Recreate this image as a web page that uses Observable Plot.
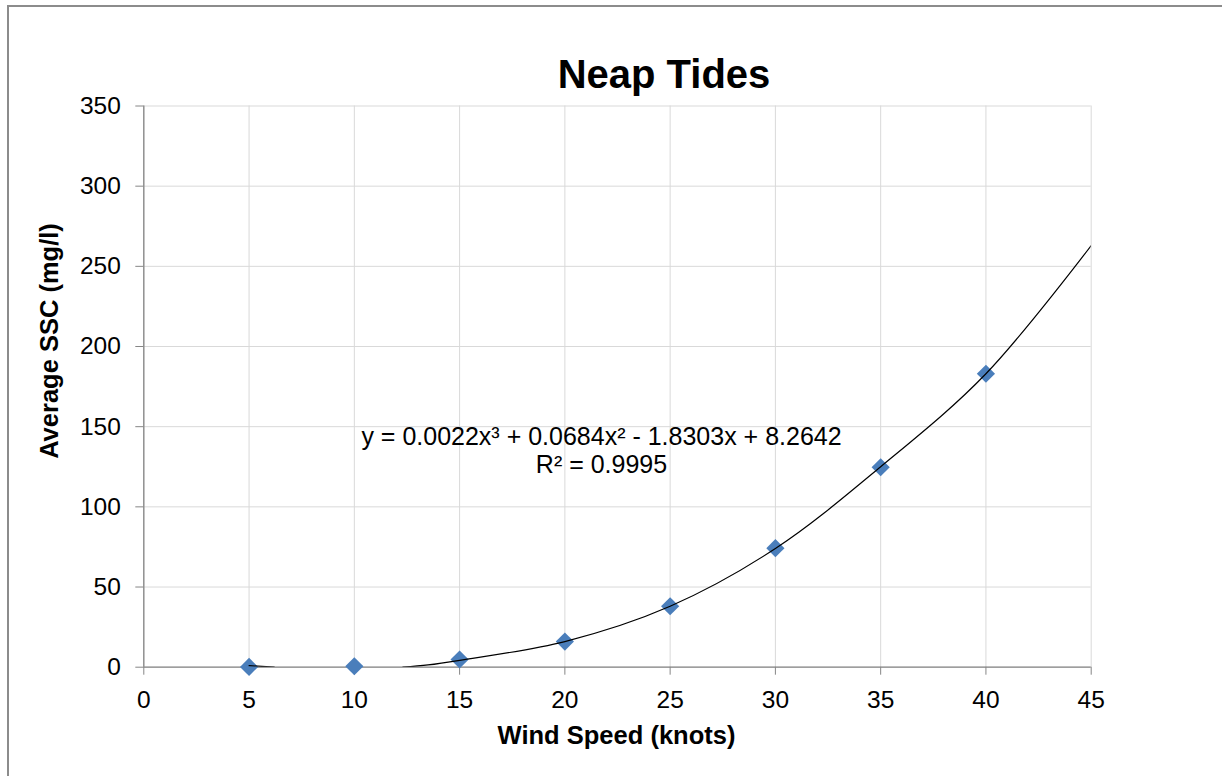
<!DOCTYPE html>
<html>
<head>
<meta charset="utf-8">
<script src="https://cdn.jsdelivr.net/npm/d3@7"></script>
<script src="https://cdn.jsdelivr.net/npm/@observablehq/plot@0.6"></script>
<style>
  html, body { margin: 0; padding: 0; background: #fff; }
  body { width: 1222px; height: 776px; overflow: hidden; position: relative;
         font-family: "Liberation Sans", Arial, sans-serif; color: #000; }
  #frame { position: absolute; left: 7px; top: 5px; width: 1300px; height: 900px;
           border: 2px solid #8c8c8c; box-sizing: border-box; }
  #chart { position: absolute; left: 0; top: 0; }
  .t { position: absolute; white-space: nowrap; line-height: 1; }
  #title { font-size: 40px; font-weight: bold; left: 664px; top: 54px; transform: translateX(-50%); }
  #xlabel { font-size: 25.5px; font-weight: bold; left: 616.5px; top: 723px; transform: translateX(-50%); }
  #ylabel { font-size: 25.5px; font-weight: bold; left: 49.5px; top: 341px;
            transform: translate(-50%, -50%) rotate(-90deg); }
  .eq { font-size: 25px; left: 601.5px; transform: translateX(-50%); }
</style>
</head>
<body>
<div id="frame"></div>
<div id="chart"></div>
<div id="title" class="t"></div>
<div id="xlabel" class="t"></div>
<div id="ylabel" class="t"></div>
<div id="eq1" class="t eq" style="top:424px"></div>
<div id="eq2" class="t eq" style="top:452px"></div>
<script>
// ---- data ----
const titleText = "Neap Tides";
const xLabel = "Wind Speed (knots)";
const yLabel = "Average SSC (mg/l)";
const equationText = "y = 0.0022x\u00B3 + 0.0684x\u00B2 - 1.8303x + 8.2642";
const r2Text = "R\u00B2 = 0.9995";

const windSpeed = [5, 10, 15, 20, 25, 30, 35, 40];
const avgSSC    = [0.2, 0.6, 4.8, 16.0, 38.0, 74.2, 124.7, 183.0];

// trendline as traced on the picture (gap where it is hidden below 0)
const trendX = [5, 6.2, NaN, 12.3, 13.5, 15, 20, 25, 30, 35, 40, 45];
const trendY = [1.0, 0, NaN, 0, 1.4, 4.3, 16.0, 38.0, 74.0, 125.0, 183.0, 263.0];

const xTicks = [0, 5, 10, 15, 20, 25, 30, 35, 40, 45];
const yTicks = [0, 50, 100, 150, 200, 250, 300, 350];

// ---- build ----
const points = windSpeed.map((x, i) => ({x, y: avgSSC[i]}));
const trend = trendX.map((x, i) => ({x, y: trendY[i]}));

const gridColor = "#d9d9d9";
const axisColor = "#868686";

const plot = Plot.plot({
  width: 1222,
  height: 776,
  marginLeft: 143.3,
  marginRight: 131.3,
  marginTop: 105.5,
  marginBottom: 109.3,
  style: { fontFamily: "'Liberation Sans', Arial, sans-serif", fontSize: "24.5px", background: "transparent", color: "#000" },
  x: { domain: [0, 45] },
  y: { domain: [0, 350] },
  marks: [
    Plot.gridX(xTicks, { stroke: gridColor, strokeOpacity: 1, strokeWidth: 1 }),
    Plot.gridY(yTicks, { stroke: gridColor, strokeOpacity: 1, strokeWidth: 1 }),
    Plot.ruleX([0], { stroke: axisColor, strokeWidth: 1.3 }),
    Plot.ruleY([0], { stroke: axisColor, strokeWidth: 1.3 }),
    Plot.axisX(xTicks, { tickSize: 8, tickPadding: 15, stroke: axisColor, fill: "#000", label: null, fontSize: 24.5 }),
    Plot.axisY(yTicks, { tickSize: 8, tickPadding: 15, stroke: axisColor, fill: "#000", label: null, fontSize: 24.5 }),
    Plot.dot(points, { x: "x", y: "y", symbol: "diamond2", r: 8.2, fill: "#4a7ebb", stroke: "none" }),
    Plot.line(trend, { x: "x", y: "y", stroke: "#000", strokeWidth: 1.2, curve: "catmull-rom", clip: true })
  ]
});
document.getElementById("chart").appendChild(plot);

document.getElementById("title").textContent = titleText;
document.getElementById("xlabel").textContent = xLabel;
document.getElementById("ylabel").textContent = yLabel;
document.getElementById("eq1").textContent = equationText;
document.getElementById("eq2").textContent = r2Text;
</script>
</body>
</html>
